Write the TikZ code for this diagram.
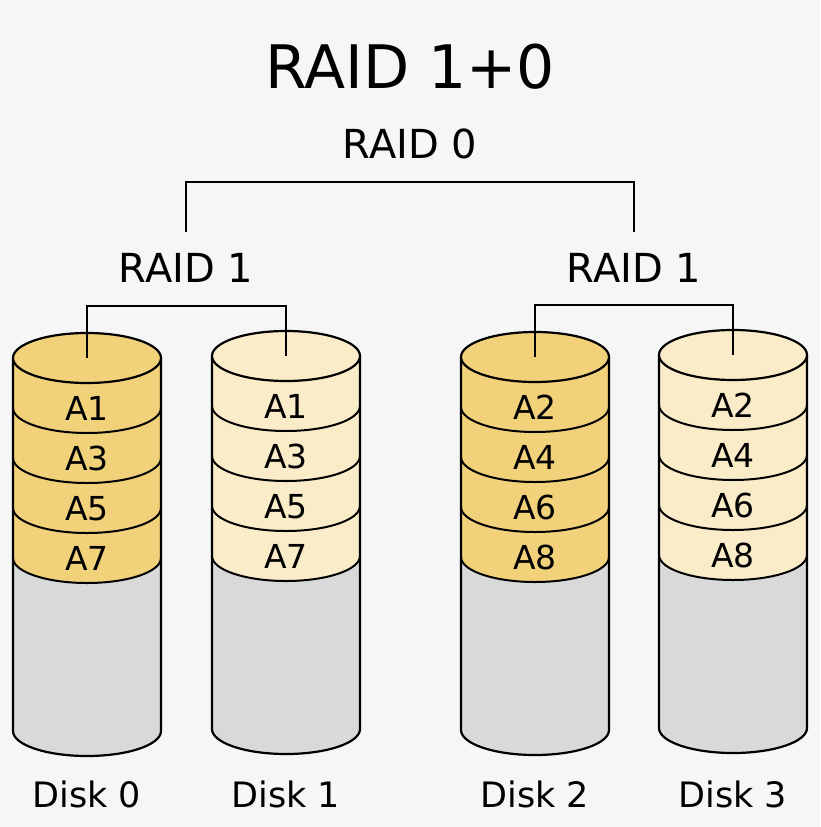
\documentclass[tikz,border=0pt]{standalone}
\usepackage{fontspec}
\setmainfont{DejaVu Sans}
\usetikzlibrary{positioning}
\definecolor{bgcol}{HTML}{F6F6F6}
\definecolor{stripecol}{HTML}{F2D17B}
\definecolor{mirrorcol}{HTML}{FAEBC9}
\definecolor{emptycol}{HTML}{D9D9D9}
\begin{document}
\begin{tikzpicture}[x=1pt,y=1pt,line width=2.2pt,title/.style={font=\fontsize{60}{72}\selectfont,anchor=base},level/.style={font=\fontsize{40}{48}\selectfont,anchor=base},block/.style={font=\fontsize{33}{40}\selectfont,anchor=base},disklabel/.style={font=\fontsize{35}{42}\selectfont,anchor=base},half/.style={start angle=180,end angle=360,x radius=74,y radius=25}]
\fill[bgcol] (0,0) rectangle (820,-827);
\useasboundingbox (0,0) rectangle (820,-827);
\node[title] (raid10) at (410,-88) {RAID 1+0};
\node[level] (raid0) at (410,-158) {RAID 0};
\node[level] (raid1a) at (186,-282) {RAID 1};
\node[level] (raid1b) at (634,-282) {RAID 1};
\foreach \n/\cx/\cy/\col/\a/\b/\c/\d in {0/87/358/stripecol/A1/A3/A5/A7,1/286/356/mirrorcol/A1/A3/A5/A7,2/535/357/stripecol/A2/A4/A6/A8,3/733/355/mirrorcol/A2/A4/A6/A8}{
\coordinate (disk\n) at (\cx,-\cy);
\fill[emptycol] (\cx-74,-\cy) -- (\cx-74,-\cy-373) arc[half] -- (\cx+74,-\cy) -- cycle;
\fill[\col] (\cx-74,-\cy) -- (\cx-74,-\cy-200) arc[half] -- (\cx+74,-\cy) -- cycle;
\foreach \k in {1,...,4} \draw[line width=2pt] (\cx-74,-\cy-50*\k) arc[half];
\draw (\cx-74,-\cy) -- (\cx-74,-\cy-373) arc[half] -- (\cx+74,-\cy);
\filldraw[fill=\col] (disk\n) ellipse [x radius=74,y radius=25];
\foreach \t [count=\k] in {\a,\b,\c,\d} \node[block] (blk\n\k) at (\cx,-\cy-50*\k-12) {\t};
\node[disklabel] (label\n) at (\cx,-807) {Disk \n};
}
\coordinate (top0) at (186,-232);
\coordinate (top1) at (634,-232);
\coordinate (bar0) at (410,-182);
\coordinate (bar1) at (186,-306);
\coordinate (bar2) at (634,-305);
\draw (top0) |- (bar0) -| (top1);
\draw (disk0) |- (bar1) -| (disk1);
\draw (disk2) |- (bar2) -| (disk3);
\end{tikzpicture}
\end{document}
